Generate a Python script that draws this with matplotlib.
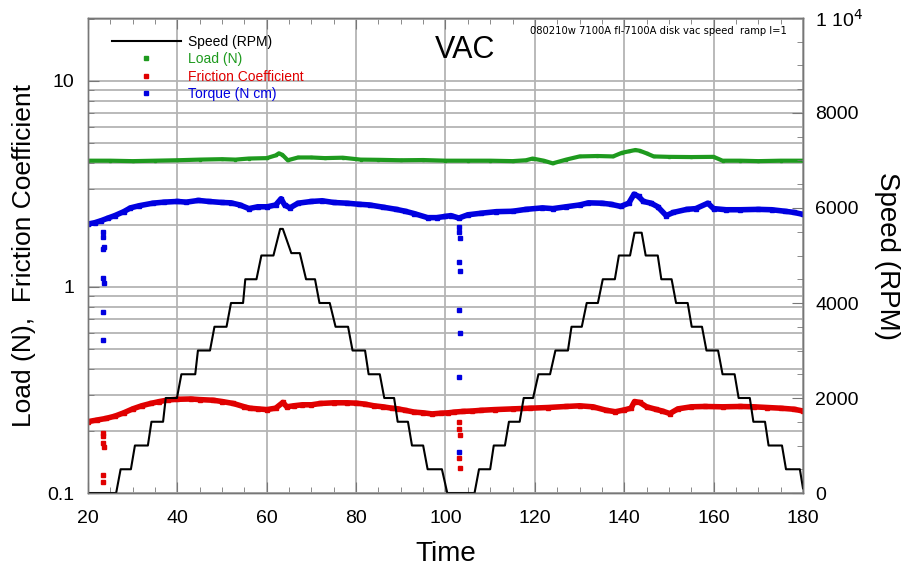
import matplotlib
matplotlib.use("Agg")
import matplotlib.pyplot as plt
from matplotlib.lines import Line2D
from matplotlib.ticker import FixedLocator, FixedFormatter, LogLocator, MultipleLocator, NullFormatter

plt.rcParams['font.family'] = ['Liberation Sans', 'DejaVu Sans']

# ---------------- data ----------------
speed_t = [20, 26.3, 27.3, 29.6, 30.5, 33.4, 34.2, 36.8, 37.4, 39.9, 40.9, 44, 44.6, 47.3, 48.3, 51,
           52, 54.7, 55.2, 57.7, 58.8, 61.5, 63.0, 63.6, 65.5, 67.4, 68.8, 70.8, 71.8, 74.1, 75.4, 78.2,
           79.2, 82, 82.8, 85.3, 86.3, 88.5, 89.3, 91.6, 92.5, 95, 96, 99.2, 100.4, 106.5, 107.5, 110,
           110.8, 113.3, 114.2, 116.6, 117.5, 119.6, 120.8, 123.4, 124.6, 127.4, 128.2, 130.5, 131.6, 134.1,
           135.2, 137.9, 138.8, 141.3, 142.3, 143.9, 144.8, 147.5, 148.3, 150.6, 151.6, 154.2, 155.1, 157.4,
           158.4, 161, 162, 164.7, 165.6, 168.1, 168.9, 171.5, 172.3, 175.3, 176.2, 179.3, 180]
speed_v = [0, 0, 500, 500, 1000, 1000, 1500, 1500, 2000, 2000, 2500, 2500, 3000, 3000, 3500, 3500,
           4000, 4000, 4500, 4500, 5000, 5000, 5560, 5560, 5050, 5050, 4500, 4500, 4000, 4000, 3500, 3500,
           3000, 3000, 2500, 2500, 2000, 2000, 1500, 1500, 1000, 1000, 500, 500, 0, 0, 500, 500,
           1000, 1000, 1500, 1500, 2000, 2000, 2500, 2500, 3000, 3000, 3500, 3500, 4000, 4000,
           4500, 4500, 5000, 5000, 5480, 5480, 5000, 5000, 4500, 4500, 4000, 4000, 3500, 3500,
           3000, 3000, 2500, 2500, 2000, 2000, 1500, 1500, 1000, 1000, 500, 500, 100]

load_t = [20, 25, 30, 35, 40, 45, 50, 53, 56, 60, 62, 62.7, 63.5, 64.7, 67, 70, 73, 77, 81, 85, 90, 95,
          100, 105, 110, 115, 118, 119.5, 122, 124, 127, 130, 134, 137.5, 139.5, 141, 142.5, 143.5, 145,
          146.6, 150, 155, 160, 162, 166, 170, 175, 180]
load_v = [4.1, 4.1, 4.08, 4.1, 4.12, 4.15, 4.17, 4.15, 4.2, 4.22, 4.35, 4.45, 4.38, 4.12, 4.25, 4.25,
          4.22, 4.24, 4.15, 4.14, 4.12, 4.13, 4.1, 4.1, 4.1, 4.08, 4.12, 4.2, 4.1, 3.98, 4.15, 4.3, 4.32,
          4.3, 4.48, 4.55, 4.62, 4.58, 4.45, 4.3, 4.28, 4.27, 4.28, 4.1, 4.1, 4.08, 4.1, 4.1]

torque_t = [20, 21.5, 23, 24.5, 26, 28, 29.5, 31.5, 34.5, 37, 40, 42, 44.7, 47, 50, 52, 54, 56, 58, 60.1,
            62, 63.2, 64, 65.2, 67, 70, 72.4, 75, 78, 80.6, 83, 86, 89, 91, 93, 96, 98, 100, 101.2, 103,
            105, 108, 111.4, 115, 118, 121.7, 124, 127, 130, 132, 135, 137, 139.2, 141, 142.2, 143.2,
            144.3, 146, 147.5, 149.4, 151, 154, 156, 158.7, 160, 162.8, 166, 170, 173, 176, 178, 180]
torque_v = [2.02, 2.05, 2.1, 2.16, 2.22, 2.32, 2.42, 2.48, 2.55, 2.58, 2.6, 2.58, 2.63, 2.6, 2.57, 2.56,
            2.5, 2.4, 2.45, 2.45, 2.5, 2.68, 2.5, 2.42, 2.55, 2.6, 2.62, 2.57, 2.55, 2.52, 2.5, 2.44,
            2.38, 2.33, 2.27, 2.17, 2.17, 2.2, 2.22, 2.16, 2.24, 2.28, 2.32, 2.33, 2.38, 2.42, 2.4, 2.45,
            2.5, 2.56, 2.55, 2.52, 2.46, 2.55, 2.82, 2.75, 2.6, 2.55, 2.45, 2.22, 2.3, 2.38, 2.4, 2.55,
            2.4, 2.37, 2.37, 2.38, 2.37, 2.33, 2.3, 2.25]

friction_t = [20, 22, 24, 26, 28, 30, 32, 34, 36, 38, 40, 43, 45, 48, 50, 52.5, 55, 56.2, 58, 60, 62,
              63.6, 64.5, 66, 68, 70, 72, 75, 78, 80, 82, 84, 86, 88, 89.4, 91, 93, 95, 97, 99, 100.6,
              102, 104, 106, 108, 111, 115, 119, 123, 127, 130, 133, 136, 138, 140, 141.5, 142.3, 143.5,
              145, 147, 148.5, 150.2, 152, 155, 158, 162, 166, 169, 172, 175, 178, 180]
friction_v = [0.222, 0.226, 0.23, 0.236, 0.245, 0.256, 0.265, 0.272, 0.278, 0.283, 0.285, 0.286, 0.284,
              0.282, 0.278, 0.272, 0.262, 0.258, 0.256, 0.254, 0.258, 0.275, 0.262, 0.265, 0.268, 0.268,
              0.272, 0.274, 0.274, 0.273, 0.27, 0.265, 0.262, 0.258, 0.256, 0.252, 0.247, 0.245, 0.242,
              0.244, 0.245, 0.247, 0.249, 0.25, 0.252, 0.254, 0.256, 0.258, 0.26, 0.263, 0.265, 0.262,
              0.252, 0.248, 0.253, 0.258, 0.278, 0.275, 0.262, 0.255, 0.25, 0.243, 0.256, 0.262, 0.263,
              0.262, 0.263, 0.262, 0.26, 0.258, 0.255, 0.25]

# dropout samples (speed changes at start of ramps)
torque_drop_t = [23.3, 23.4, 23.5, 23.4, 23.4, 23.5, 23.4, 23.4,
                 103.0, 103.1, 103.2, 103.1, 103.3, 103.1, 103.2, 103.1, 103.1]
torque_drop_v = [1.85, 1.75, 1.56, 1.52, 1.10, 1.05, 0.76, 0.55,
                 1.95, 1.85, 1.73, 1.32, 1.19, 0.77, 0.60, 0.365, 0.158]
friction_drop_t = [23.4, 23.4, 23.4, 23.5, 23.4, 23.4, 103.1, 103.0, 103.2, 103.1, 103.2]
friction_drop_v = [0.195, 0.19, 0.175, 0.168, 0.122, 0.113, 0.22, 0.205, 0.191, 0.148, 0.132]

x_ticks = [20, 40, 60, 80, 100, 120, 140, 160, 180]
left_ticks = [0.1, 1, 10]
left_labels = ['0.1', '1', '10']
right_ticks = [0, 2000, 4000, 6000, 8000, 10000]
right_labels = ['0', '2000', '4000', '6000', '8000', '1 10$^4$']

GREEN = '#1e9a1e'
RED = '#e00000'
BLUE = '#0000e0'
GRID = '#b4b4b4'
FRAME = '#777777'

fig = plt.figure(figsize=(9.1, 5.73), dpi=100)
ax = fig.add_axes([0.0967, 0.1396, 0.7857, 0.8290])
ax2 = ax.twinx()

ax.set_yscale('log')
ax.set_xlim(20, 180)
ax.set_ylim(0.1, 20.2)
ax2.set_ylim(0, 10000)

# grid
ax.grid(True, which='both', axis='y', color=GRID, lw=1.3)
ax.grid(True, which='major', axis='x', color=GRID, lw=1.3)
ax.set_axisbelow(True)

# series
ax.plot(load_t, load_v, color=GREEN, lw=3.0, marker='s', ms=2.0, solid_joinstyle='round')
ax.plot(torque_t, torque_v, color=BLUE, lw=4.0, marker='s', ms=2.5, solid_joinstyle='round')
ax.plot(friction_t, friction_v, color=RED, lw=4.0, marker='s', ms=2.5, solid_joinstyle='round')
ax.plot(torque_drop_t, torque_drop_v, ls='none', marker='s', ms=2.6, color=BLUE)
ax.plot(friction_drop_t, friction_drop_v, ls='none', marker='s', ms=2.6, color=RED)
ax2.plot(speed_t, speed_v, color='black', lw=1.5)

# ticks
ax.xaxis.set_major_locator(FixedLocator(x_ticks))
ax.xaxis.set_minor_locator(MultipleLocator(5))
ax.yaxis.set_major_locator(FixedLocator(left_ticks))
ax.yaxis.set_major_formatter(FixedFormatter(left_labels))
ax.yaxis.set_minor_locator(LogLocator(base=10, subs=[2, 3, 4, 5, 6, 7, 8, 9]))
ax.yaxis.set_minor_formatter(NullFormatter())
ax2.yaxis.set_major_locator(FixedLocator(right_ticks))
ax2.yaxis.set_major_formatter(FixedFormatter(right_labels))
ax2.yaxis.set_minor_locator(MultipleLocator(500))

ax.tick_params(axis='x', which='both', direction='in', top=True, bottom=True, color=FRAME,
               labelsize=14, pad=12)
ax.tick_params(axis='x', which='major', length=8)
ax.tick_params(axis='x', which='minor', length=4)
ax.tick_params(axis='y', which='both', direction='in', left=True, right=False, color=FRAME,
               labelsize=14, pad=10)
ax.tick_params(axis='y', which='major', length=8)
ax.tick_params(axis='y', which='minor', length=4)
ax2.tick_params(axis='y', which='both', direction='in', color=FRAME, labelsize=14, pad=9)
ax2.tick_params(axis='y', which='major', length=8)
ax2.tick_params(axis='y', which='minor', length=4)

for a in (ax, ax2):
    for s in a.spines.values():
        s.set_color(FRAME)
        s.set_linewidth(1.0)

ax.set_xlabel('Time', fontsize=20, labelpad=10)
ax.set_ylabel('Load (N),  Friction Coefficient', fontsize=19, labelpad=8)
ax2.set_ylabel('Speed (RPM)', fontsize=20, rotation=270, labelpad=26)

ax.text(0.527, 0.933, 'VAC', transform=ax.transAxes, fontsize=22, ha='center', va='center')
ax.text(0.618, 0.972, '080210w 7100A fl-7100A disk vac speed  ramp l=1', transform=ax.transAxes,
        fontsize=7.2, ha='left', va='center', family='DejaVu Sans')

handles = [Line2D([], [], color='black', lw=1.5),
           Line2D([], [], ls='none', marker='s', ms=2.5, color=GREEN),
           Line2D([], [], ls='none', marker='s', ms=2.5, color=RED),
           Line2D([], [], ls='none', marker='s', ms=2.5, color=BLUE)]
labels = ['Speed (RPM)', 'Load (N)', 'Friction Coefficient', 'Torque (N cm)']
leg = ax2.legend(handles, labels, loc='upper left', bbox_to_anchor=(0.033, 0.965), frameon=False,
                 fontsize=10, handlelength=5.0, handletextpad=0.5, labelspacing=0.25,
                 labelcolor=['black', GREEN, RED, BLUE], borderaxespad=0, borderpad=0)

fig.savefig('out.png', dpi=100)
